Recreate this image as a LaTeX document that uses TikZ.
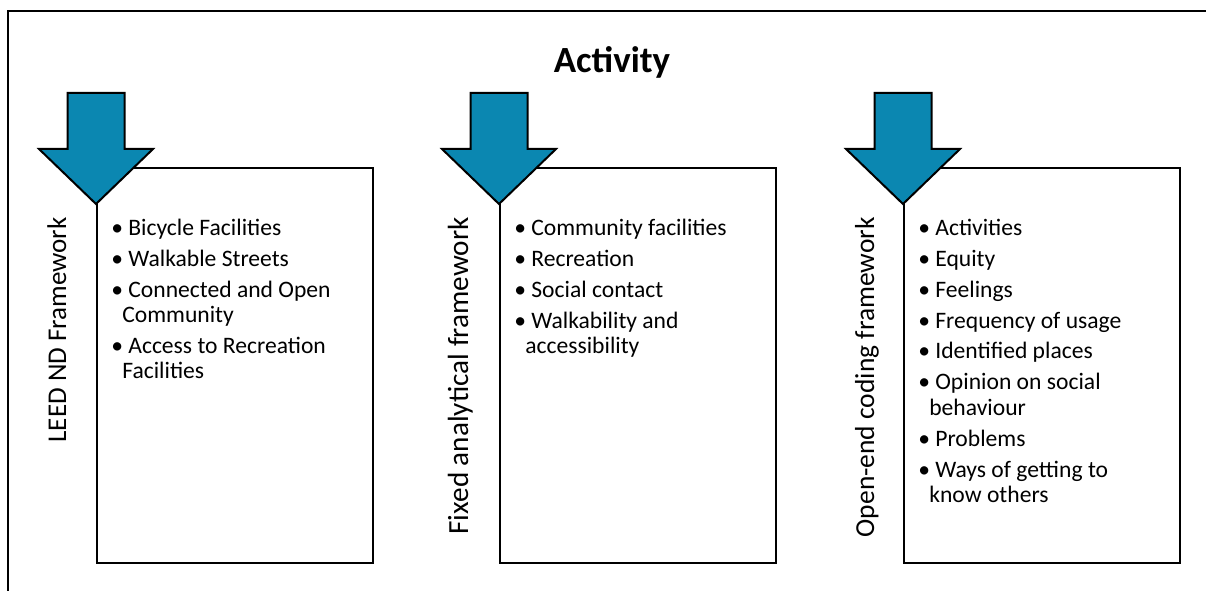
\documentclass[tikz,border=0pt]{standalone}
\usepackage{fontspec}
\setmainfont{Carlito}
\definecolor{arrowblue}{RGB}{11,135,177}
\newcommand\cont{\hspace*{8.3pt}}
\newcommand\itemgap{\\[4.1pt]}
\newcommand\firststrut{\rule{0pt}{14pt}}
\begin{document}
\begin{tikzpicture}[x=0.75pt,y=-0.75pt,
  frameline/.style={line width=1.5pt, line cap=rect},
  listbox/.style={draw, line width=1.5pt, fill=white, inner sep=0pt,
    minimum width=207pt, minimum height=296.25pt, anchor=north west},
  downarrow/.style={draw=black, line width=1.5pt, fill=arrowblue, line join=miter},
  listtext/.style={anchor=north west, inner sep=0pt, align=left,
    font=\fontsize{17.7}{19.1}\selectfont},
  sidelabel/.style={rotate=90, anchor=base east, inner sep=0pt},
  titletext/.style={anchor=base, inner sep=0pt, font=\fontsize{27.7}{32}\selectfont\bfseries}]
\useasboundingbox (0,0) rectangle (1206,591);
\draw[frameline] (8,592) -- (8,11) -- (1207,11);
\node[titletext] (title) at (612,73) {Activity};
% boxes
\node[listbox] (b1) at (96,167) {};
\node[listbox] (b2) at (499,167) {};
\node[listbox] (b3) at (903,167) {};
% arrows
\foreach \t/\n in {96/a1,499/a2,903/a3}{
  \draw[downarrow] (\t-28.5,93) -- (\t+28.5,93) -- (\t+28.5,149) -- (\t+57,149)
    -- (\t,204) -- (\t-57,149) -- (\t-28.5,149) -- cycle;
}
% side labels
\node[sidelabel, font=\fontsize{20.3}{24}\selectfont] (l1) at (66,217) {LEED ND Framework};
\node[sidelabel, font=\fontsize{21.9}{26}\selectfont] (l2) at (468,217) {Fixed analytical framework};
\node[sidelabel, font=\fontsize{20.6}{24}\selectfont] (l3) at (874,217) {Open-end coding framework};
% lists
\node[listtext] (t1) at (111,216.33) {\firststrut\textbullet\ Bicycle Facilities\itemgap
\textbullet\ Walkable Streets\itemgap
\textbullet\ Connected and Open\\
\cont Community\itemgap
\textbullet\ Access to Recreation\\
\cont Facilities};
\node[listtext] (t2) at (514,216.33) {\firststrut\textbullet\ Community facilities\itemgap
\textbullet\ Recreation\itemgap
\textbullet\ Social contact\itemgap
\textbullet\ Walkability and\\
\cont accessibility};
\node[listtext] (t3) at (918,216.33) {\firststrut\textbullet\ Activities\itemgap
\textbullet\ Equity\itemgap
\textbullet\ Feelings\itemgap
\textbullet\ Frequency of usage\itemgap
\textbullet\ Identified places\itemgap
\textbullet\ Opinion on social\\
\cont behaviour\itemgap
\textbullet\ Problems\itemgap
\textbullet\ Ways of getting to\\
\cont know others};
\end{tikzpicture}
\end{document}
